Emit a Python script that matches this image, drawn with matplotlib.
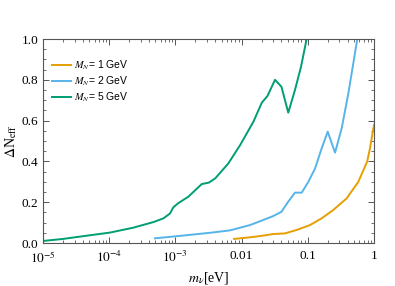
import numpy as np
import matplotlib
matplotlib.use('Agg')
from matplotlib import pyplot as plt
from matplotlib.ticker import LogLocator, MultipleLocator, FixedLocator, FixedFormatter, NullFormatter

# values
m_5gev = [1e-5, 2.0e-5, 4.6e-5, 1.02e-4, 2.3e-4, 4.7e-4, 6.6e-4, 8.3e-4, 9.3e-4, 1.1e-3,
          1.57e-3, 2.5e-3, 3.2e-3, 4.0e-3, 6.3e-3, 9.5e-3, 0.0151, 0.0202, 0.0245, 0.032,
          0.040, 0.0507, 0.064, 0.079, 0.096]
dn_5gev = [0.010, 0.020, 0.036, 0.051, 0.075, 0.103, 0.121, 0.145, 0.175, 0.195,
           0.227, 0.289, 0.296, 0.317, 0.39, 0.48, 0.595, 0.688, 0.72, 0.80,
           0.766, 0.639, 0.75, 0.864, 1.0]

m_2gev = [4.9e-4, 1.1e-3, 3.3e-3, 6.7e-3, 0.0134, 0.0213, 0.030, 0.040, 0.0507, 0.064,
          0.081, 0.102, 0.129, 0.162, 0.20, 0.258, 0.325, 0.41, 0.56]
dn_2gev = [0.023, 0.034, 0.05, 0.062, 0.088, 0.113, 0.132, 0.153, 0.203, 0.247,
           0.247, 0.30, 0.366, 0.464, 0.546, 0.443, 0.562, 0.734, 1.0]

m_1gev = [7.7e-3, 0.0134, 0.021, 0.030, 0.045, 0.068, 0.108, 0.162, 0.243, 0.387,
          0.58, 0.79, 0.87, 1.0]
dn_1gev = [0.02, 0.028, 0.036, 0.044, 0.047, 0.064, 0.088, 0.121, 0.162, 0.219,
           0.30, 0.40, 0.464, 0.58]

xtick_vals = [1e-5, 1e-4, 1e-3, 1e-2, 1e-1, 1]
xtick_labels = ['$10^{-5}$', '$10^{-4}$', '$10^{-3}$', '0.01', '0.1', '1']

plt.rcParams['font.family'] = ['Liberation Serif', 'DejaVu Serif']
plt.rcParams['mathtext.fontset'] = 'stix'

fig = plt.figure(figsize=(3.95, 2.86), dpi=100)
ax = fig.add_axes([0.1089, 0.1503, 0.8379, 0.7133])

ax.plot(m_1gev, dn_1gev, color='#E69F00', lw=1.4, label='$M_N$= 1 GeV')
ax.plot(m_2gev, dn_2gev, color='#56B4E9', lw=1.4, label='$M_N$= 2 GeV')
ax.plot(m_5gev, dn_5gev, color='#009E73', lw=1.4, label='$M_N$= 5 GeV')

ax.set_xscale('log')
ax.set_xlim(1e-5, 1)
ax.set_ylim(0, 1)

ax.xaxis.set_major_locator(FixedLocator(xtick_vals))
ax.xaxis.set_major_formatter(FixedFormatter(xtick_labels))
ax.xaxis.set_minor_locator(LogLocator(base=10, subs=np.arange(2, 10)))
ax.xaxis.set_minor_formatter(NullFormatter())
ax.yaxis.set_major_locator(MultipleLocator(0.2))
ax.yaxis.set_minor_locator(MultipleLocator(0.05))
ax.yaxis.set_major_formatter(plt.FuncFormatter(lambda v, p: f'{v:.1f}'))

ax.tick_params(which='both', direction='in', top=True, right=True, colors='#555555',
               labelcolor='black', labelsize=9.5)
ax.tick_params(which='major', length=4, width=0.7)
ax.tick_params(which='minor', length=2, width=0.6)
ax.tick_params(axis='x', which='major', pad=5)
for s in ax.spines.values():
    s.set_color('#555555')
    s.set_linewidth(0.8)

ax.set_xlabel(r'$m_\nu$[eV]', fontsize=10, labelpad=3)
ax.set_ylabel(r'$\Delta$N$_{\rm eff}$', fontsize=10, labelpad=2)

ax.legend(loc='upper left', frameon=False, handlelength=1.75, handletextpad=0.3,
          labelspacing=0.22, bbox_to_anchor=(0.0, 0.95),
          prop={'family': 'Liberation Sans', 'size': 7.5})

fig.savefig('out.png', dpi=100)
